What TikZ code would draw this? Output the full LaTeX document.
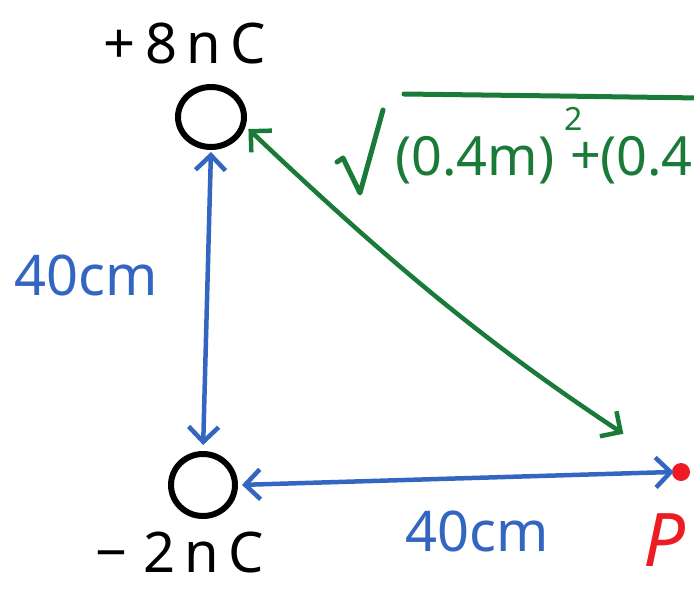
\documentclass[tikz,border=0pt]{standalone}
\usepackage{fontspec}
\setmainfont{Noto Sans}
\usetikzlibrary{arrows.meta,shapes.geometric}
\definecolor{pblue}{RGB}{51,102,192}
\definecolor{pgreen}{RGB}{26,122,56}
\definecolor{pred}{RGB}{237,28,36}
\begin{document}
\begin{tikzpicture}[x=1pt,y=-1pt, line cap=round, line join=round,
  charge/.style={draw=black, line width=6pt, ellipse, minimum width=66pt, minimum height=60pt, inner sep=0pt},
  barb/.tip={Straight Barb[length=15pt,width=30pt]},
  arr/.style={line width=4.5pt, barb-barb},
  lbl/.style={font=\fontsize{56}{60}\selectfont, inner sep=0pt},
  glbl/.style={font=\fontsize{54}{58}\selectfont, inner sep=0pt, text=pgreen}]
\useasboundingbox (0,0) rectangle (694,590);
% charges and point P
\node[charge] (top) at (211,117) {};
\node[charge, minimum width=64pt, minimum height=62pt] (bot) at (203,485) {};
\node[circle, fill=pred, minimum size=18pt, inner sep=0pt] (P) at (681,472) {};
% labels
\node[lbl] (qtop) at (185,44) {+\,8\,n\,C};
\node[lbl] (qbot) at (180,552) {−\;2\,n\,C};
\node[lbl, text=pblue] (dv) at (86,275) {40cm};
\node[lbl, text=pblue] (dh) at (477,531) {40cm};
\node[font=\fontsize{74}{78}\selectfont, inner sep=0pt, text=pred] (Plbl) at (664,540) {\itshape P};
% connectors
\draw[arr, pblue, shorten <=2pt, shorten >=6pt] (top.south) -- (bot.north);
\draw[arr, pblue, shorten <=4pt, shorten >=-2pt] (bot.east) -- (P.west);
\draw[arr, pgreen, shorten <=4pt, shorten >=60pt] (top.-15) to[bend right=5] (P);
% square root expression
\draw[pgreen, line width=5pt] (337,162) -- (343,158) -- (360,193) -- (383,110);
\draw[pgreen, line width=5pt] (404,94) -- (560,96) -- (700,98);
\node[glbl, anchor=west] (t1) at (395,160) {(0.4m)};
\node[glbl, font=\fontsize{32}{34}\selectfont] (t2) at (574,119) {2};
\node[glbl] (t3) at (586,158) {+};
\node[glbl, anchor=west] (t4) at (600,160) {(0.4m};
\end{tikzpicture}
\end{document}
